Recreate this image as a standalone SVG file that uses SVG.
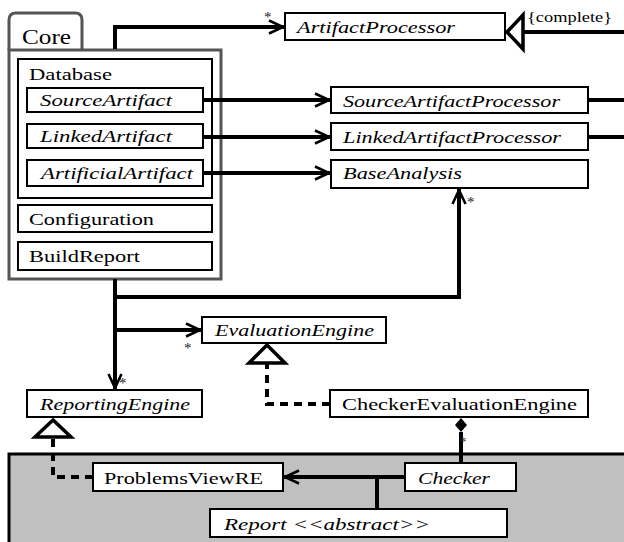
<svg xmlns="http://www.w3.org/2000/svg" width="624" height="542" viewBox="0 0 624 542" font-family="'Liberation Serif', 'DejaVu Serif', 'Times New Roman', serif">
<style>
.box{fill:#fff;stroke:#000;stroke-width:2}
.t{font-size:17px;fill:#000}
.i{font-style:italic}
.big{font-size:20px}
.sm{font-size:14px}
.c{fill:none;stroke:#000;stroke-width:4}
.d{fill:none;stroke:#000;stroke-width:4;stroke-dasharray:8,6}
.s{font-size:15px;fill:#222}
.tri{fill:#fff;stroke:#000;stroke-width:3.5;stroke-linejoin:miter}
</style>
<defs>
<marker id="open" markerUnits="userSpaceOnUse" markerWidth="24" markerHeight="20" viewBox="-18 -10 24 20" refX="0" refY="0" orient="auto">
<path d="M-15 -6.5 L-1 0 L-15 6.5" fill="none" stroke="#000" stroke-width="2.6"/>
</marker>
</defs>
<rect x="0" y="0" width="624" height="542" fill="#fff"/>
<g id="lower-package">
<rect x="9" y="454" width="620" height="92" fill="#c0c0c0"/>
<path d="M9 542 V454 H626" fill="none" stroke="#000" stroke-width="3"/>
</g>
<g id="Core">
<path d="M9 50 V20 Q9 13 16 13 H75 Q82 13 82 20 V50" fill="#fff" stroke="#555" stroke-width="3"/>
<rect x="9" y="50" width="212" height="229" fill="#fff" stroke="#555" stroke-width="3"/>
<text class="t big" x="22" y="44" textLength="49" lengthAdjust="spacingAndGlyphs">Core</text>
</g>
<g id="Database">
<rect class="box" x="18" y="59" width="194" height="139"/>
<text class="t" x="29" y="80" textLength="83" lengthAdjust="spacingAndGlyphs">Database</text>
</g>
<g id="SourceArtifact">
<rect class="box" x="27" y="88" width="176" height="24"/>
<text class="t i" x="40" y="106" textLength="132" lengthAdjust="spacingAndGlyphs">SourceArtifact</text>
</g>
<g id="LinkedArtifact">
<rect class="box" x="27" y="124" width="176" height="24"/>
<text class="t i" x="40" y="142" textLength="132" lengthAdjust="spacingAndGlyphs">LinkedArtifact</text>
</g>
<g id="ArtificialArtifact">
<rect class="box" x="27" y="160" width="176" height="26"/>
<text class="t i" x="41" y="179" textLength="152" lengthAdjust="spacingAndGlyphs">ArtificialArtifact</text>
</g>
<g id="Configuration">
<rect class="box" x="18" y="205" width="194" height="27"/>
<text class="t" x="29" y="225" textLength="125" lengthAdjust="spacingAndGlyphs">Configuration</text>
</g>
<g id="BuildReport">
<rect class="box" x="18" y="242" width="194" height="28"/>
<text class="t" x="29" y="262" textLength="111" lengthAdjust="spacingAndGlyphs">BuildReport</text>
</g>
<g id="ArtifactProcessor">
<rect class="box" x="285" y="13" width="220" height="27"/>
<text class="t i" x="297" y="33" textLength="158" lengthAdjust="spacingAndGlyphs">ArtifactProcessor</text>
</g>
<g id="SourceArtifactProcessor">
<rect class="box" x="331" y="87" width="257" height="26"/>
<text class="t i" x="343" y="107" textLength="217" lengthAdjust="spacingAndGlyphs">SourceArtifactProcessor</text>
</g>
<g id="LinkedArtifactProcessor">
<rect class="box" x="331" y="123" width="257" height="27"/>
<text class="t i" x="343" y="143" textLength="218" lengthAdjust="spacingAndGlyphs">LinkedArtifactProcessor</text>
</g>
<g id="BaseAnalysis">
<rect class="box" x="331" y="160" width="257" height="28"/>
<text class="t i" x="343" y="179" textLength="119" lengthAdjust="spacingAndGlyphs">BaseAnalysis</text>
</g>
<g id="EvaluationEngine">
<rect class="box" x="202" y="317" width="184" height="26"/>
<text class="t i" x="215" y="336" textLength="159" lengthAdjust="spacingAndGlyphs">EvaluationEngine</text>
</g>
<g id="ReportingEngine">
<rect class="box" x="27" y="390" width="175" height="27"/>
<text class="t i" x="40" y="410" textLength="150" lengthAdjust="spacingAndGlyphs">ReportingEngine</text>
</g>
<g id="CheckerEvaluationEngine">
<rect class="box" x="330" y="390" width="258" height="27"/>
<text class="t" x="342" y="410" textLength="235" lengthAdjust="spacingAndGlyphs">CheckerEvaluationEngine</text>
</g>
<g id="ProblemsViewRE">
<rect class="box" x="93" y="463" width="190" height="28"/>
<text class="t" x="104" y="484" textLength="159" lengthAdjust="spacingAndGlyphs">ProblemsViewRE</text>
</g>
<g id="Checker">
<rect class="box" x="405" y="463" width="111" height="28"/>
<text class="t i" x="418" y="484" textLength="72" lengthAdjust="spacingAndGlyphs">Checker</text>
</g>
<g id="Report">
<rect class="box" x="210" y="509" width="297" height="28"/>
<text class="t i" x="224" y="530" textLength="206" lengthAdjust="spacingAndGlyphs">Report &lt;&lt;abstract&gt;&gt;</text>
</g>
<g id="connectors">
<path class="c" d="M115 49 V27 H284" marker-end="url(#open)"/>
<text class="s" x="264" y="22">*</text>
<path class="c" d="M624 32 H523"/>
<polygon class="tri" points="507,32 523,15 523,49"/>
<text class="t sm" x="527" y="22" textLength="85" lengthAdjust="spacingAndGlyphs">{complete}</text>
<path class="c" d="M203 100 H330" marker-end="url(#open)"/>
<path class="c" d="M203 137 H330" marker-end="url(#open)"/>
<path class="c" d="M203 173 H330" marker-end="url(#open)"/>
<path class="c" d="M588 100 H624"/>
<path class="c" d="M588 137 H624"/>
<path class="c" d="M115 279 V389" marker-end="url(#open)"/>
<text class="s" x="119" y="388">*</text>
<path class="c" d="M115 297 H459 V189" marker-end="url(#open)"/>
<text class="s" x="467" y="207">*</text>
<path class="c" d="M115 330 H201" marker-end="url(#open)"/>
<text class="s" x="184" y="353">*</text>
<path class="d" d="M330 404 H267 V364"/>
<polygon class="tri" points="267,345 249,363 285,363"/>
<path class="d" d="M93 477 H53 V438"/>
<polygon class="tri" points="53,420 35,437 71,437"/>
<polygon points="461,418 467,425 461,432 455,425" fill="#000"/>
<path class="c" d="M461 432 V463"/>
<text class="s" x="459" y="447">*</text>
<path class="c" d="M405 477 H284" marker-end="url(#open)"/>
<path class="c" d="M377 477 V509"/>
</g>
</svg>
